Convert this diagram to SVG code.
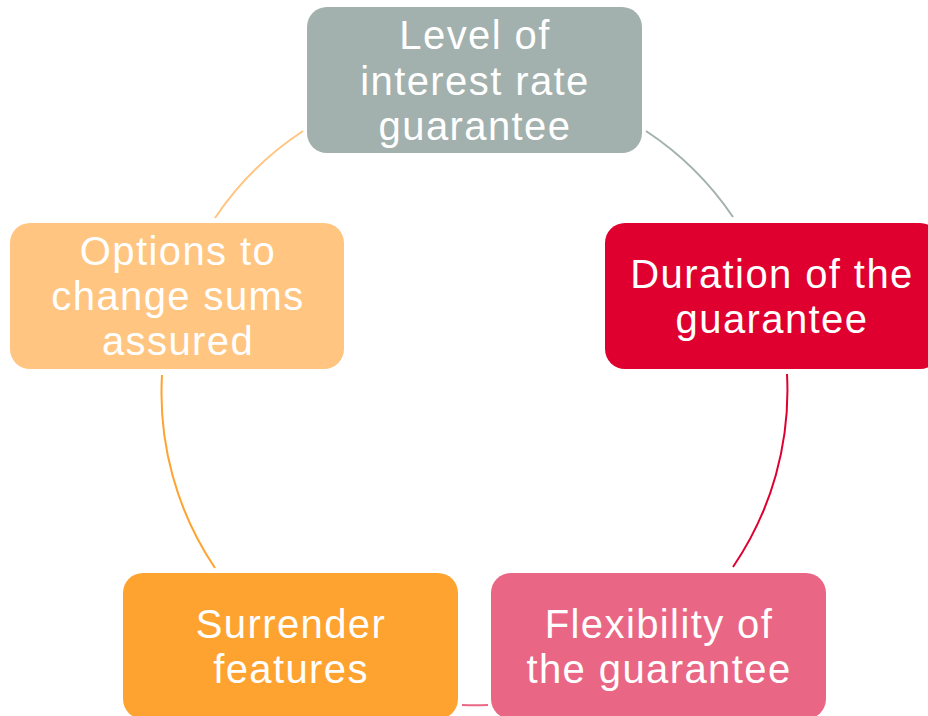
<svg xmlns="http://www.w3.org/2000/svg" width="928" height="716" viewBox="0 0 928 716">
  <style>
    .box { stroke: none; }
    .label { font-family: "Liberation Sans", Arial, sans-serif; font-size: 40px; letter-spacing: 1.4px; fill: #ffffff; text-anchor: middle; }
    .link { fill: none; stroke-width: 2; }
  </style>
  <rect width="928" height="716" fill="#ffffff"/>

  <!-- cycle connectors: arcs of one circle centred at (474,392), r=313 -->
  <g id="connectors">
    <path class="link" stroke="#A2B1AD" d="M646,131 A313,313 0 0 1 733,217"/>
    <path class="link" stroke="#E0002F" d="M787,374 A313,313 0 0 1 733,567"/>
    <path class="link" stroke="#E96785" d="M488,705 A313,313 0 0 1 462,705"/>
    <path class="link" stroke="#FFA330" d="M215,568 A313,313 0 0 1 162,375"/>
    <path class="link" stroke="#FFC581" d="M215,218 A313,313 0 0 1 303,131"/>
  </g>

  <g id="level">
    <rect class="box" x="307" y="7" width="335" height="146" rx="20" fill="#A2B1AD"/>
    <text class="label" x="475" y="49">Level of</text>
    <text class="label" x="475" y="95">interest rate</text>
    <text class="label" x="475" y="140">guarantee</text>
  </g>

  <g id="duration">
    <rect class="box" x="605" y="223" width="335" height="146" rx="20" fill="#E0002F"/>
    <text class="label" x="772" y="288">Duration of the</text>
    <text class="label" x="772" y="333">guarantee</text>
  </g>

  <g id="flexibility">
    <rect class="box" x="491" y="573" width="335" height="146" rx="20" fill="#E96785"/>
    <text class="label" x="659" y="638">Flexibility of</text>
    <text class="label" x="659" y="683">the guarantee</text>
  </g>

  <g id="surrender">
    <rect class="box" x="123" y="573" width="335" height="146" rx="20" fill="#FFA330"/>
    <text class="label" x="291" y="638">Surrender</text>
    <text class="label" x="291" y="683">features</text>
  </g>

  <g id="options">
    <rect class="box" x="10" y="223" width="334" height="146" rx="20" fill="#FFC581"/>
    <text class="label" x="178" y="265">Options to</text>
    <text class="label" x="178" y="310">change sums</text>
    <text class="label" x="178" y="355">assured</text>
  </g>
</svg>
